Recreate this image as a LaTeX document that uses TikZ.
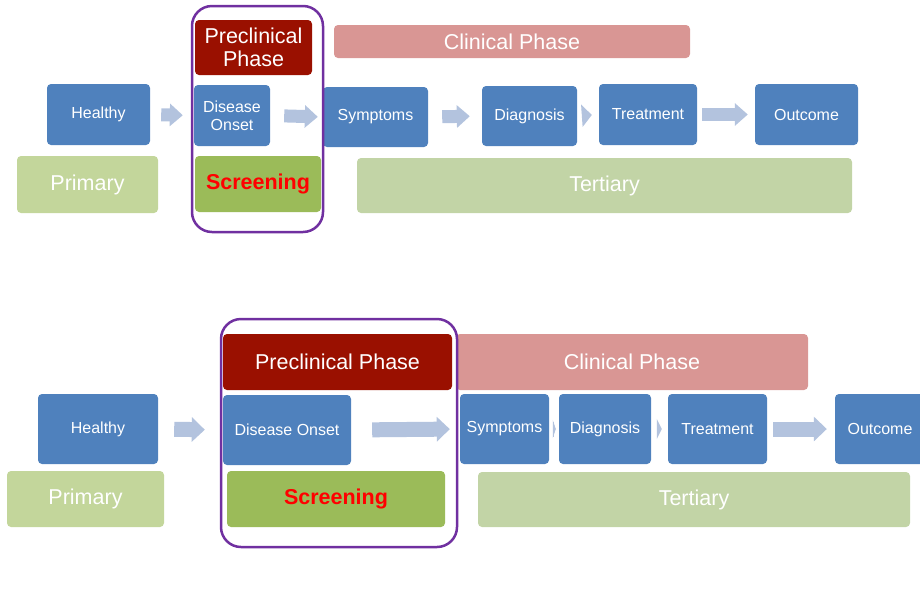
\documentclass[tikz,border=0pt]{standalone}
\usepackage{fontspec}
\setmainfont{Liberation Sans}
\usetikzlibrary{arrows.meta}

\definecolor{boxblue}{HTML}{4F81BD}
\definecolor{preclinred}{HTML}{9A1000}
\definecolor{clinpink}{HTML}{D99694}
\definecolor{screengreen}{HTML}{9BBB59}
\definecolor{palegreen}{HTML}{C3D69B}
\definecolor{tertgreen}{HTML}{C2D4A6}
\definecolor{flowblue}{HTML}{B3C3DE}
\definecolor{framepurple}{HTML}{7030A0}

\newcommand{\smalltxt}{\fontsize{16}{18}\selectfont}
\newcommand{\bigtxt}{\fontsize{21.5}{23}\selectfont}

\begin{document}
\begin{tikzpicture}[x=1pt, y=-1pt,
    box/.style={rectangle, rounded corners=4pt, inner sep=0pt, text=white, align=center},
    stage/.style={box, fill=boxblue, font=\smalltxt},
    phase/.style={box, font=\bigtxt},
    prevent/.style={box, font=\bigtxt},
    flow/.style={draw=flowblue, line width=13pt, -{Triangle[length=13pt,width=22pt]}},
    bigflow/.style={draw=flowblue, line width=15pt, -{Triangle[length=13pt,width=24pt]}},
    frame/.style={draw=framepurple, line width=2.5pt, rounded corners=20pt}]

    \useasboundingbox (0,0) rectangle (920,606);
    \clip (0,0) rectangle (920,606);

    % Top version
    \node[phase, fill=preclinred, minimum width=117pt, minimum height=55pt] (preA) at (253.5,47.5) {Preclinical\\Phase};
    \node[phase, fill=clinpink, minimum width=356pt, minimum height=33pt] (clinA) at (512,41.5) {Clinical Phase};

    \node[stage, minimum width=103pt, minimum height=61pt] (healthyA) at (98.5,114.5) {Healthy};
    \node[stage, minimum width=76pt, minimum height=61pt] (onsetA) at (232,115.5) {Disease\\Onset};
    \node[stage, minimum width=105pt, minimum height=60pt] (sympA) at (375.5,117) {Symptoms};
    \node[stage, minimum width=95pt, minimum height=60pt] (diagA) at (529.5,116) {Diagnosis};
    \node[stage, minimum width=98pt, minimum height=61pt] (treatA) at (648,114.5) {Treatment};
    \node[stage, minimum width=103pt, minimum height=61pt] (outA) at (806.5,114.5) {Outcome};

    \node[prevent, fill=palegreen, minimum width=141pt, minimum height=57pt] (primA) at (87.5,184.5) {Primary};
    \node[prevent, fill=screengreen, text=red, font=\bigtxt\bfseries, minimum width=126pt, minimum height=56pt] (screenA) at (258,184) {Screening};
    \node[prevent, fill=tertgreen, minimum width=495pt, minimum height=55pt] (tertA) at (604.5,185.5) {Tertiary};

    \draw[flow, shorten <=11pt, shorten >=11pt] (healthyA.east) -- (onsetA.west);
    \draw[flow, shorten <=14pt, shorten >=5pt] (onsetA.east) -- (sympA.west);
    \draw[flow, shorten <=14pt, shorten >=12pt] (sympA.east) -- (diagA.west);
    \draw[flow, -{Triangle[length=10pt,width=22pt]}, shorten <=5pt, shorten >=7pt] (diagA.east) -- (treatA.west);
    \draw[flow, shorten <=5pt, shorten >=7pt] (treatA.east) -- (outA.west);

    \draw[frame] (192,6) rectangle (323,232);

    % Bottom version
    \node[phase, fill=preclinred, minimum width=229pt, minimum height=56pt] (preB) at (337.5,362) {Preclinical Phase};
    \node[phase, fill=clinpink, minimum width=352pt, minimum height=56pt] (clinB) at (632,362) {Clinical Phase};

    \node[stage, minimum width=120pt, minimum height=70pt] (healthyB) at (98,429) {Healthy};
    \node[stage, minimum width=128pt, minimum height=70pt] (onsetB) at (287,430) {Disease Onset};
    \node[stage, minimum width=89pt, minimum height=70pt] (sympB) at (504.5,429) {Symptoms};
    \node[stage, minimum width=92pt, minimum height=70pt] (diagB) at (605,429) {Diagnosis};
    \node[stage, minimum width=99pt, minimum height=70pt] (treatB) at (717.5,429) {Treatment};
    \node[stage, minimum width=90pt, minimum height=70pt] (outB) at (880,429) {Outcome};

    \node[prevent, fill=palegreen, minimum width=157pt, minimum height=56pt] (primB) at (85.5,499) {Primary};
    \node[prevent, fill=screengreen, text=red, font=\bigtxt\bfseries, minimum width=218pt, minimum height=56pt] (screenB) at (336,499) {Screening};
    \node[prevent, fill=tertgreen, minimum width=432pt, minimum height=55pt] (tertB) at (694,499.5) {Tertiary};

    \draw[bigflow, shorten <=16pt, shorten >=18pt] (healthyB.east) -- (onsetB.west);
    \draw[bigflow, shorten <=21pt, shorten >=10pt] (onsetB.east) -- (sympB.west);
    \draw[bigflow, -{Triangle[length=3pt,width=18pt]}, shorten <=4pt, shorten >=3pt] (sympB.east) -- (diagB.west);
    \draw[bigflow, -{Triangle[length=5pt,width=20pt]}, shorten <=6pt, shorten >=6pt] (diagB.east) -- (treatB.west);
    \draw[bigflow, shorten <=6pt, shorten >=8pt] (treatB.east) -- (outB.west);

    \draw[frame] (221,319) rectangle (457,547);

\end{tikzpicture}
\end{document}
